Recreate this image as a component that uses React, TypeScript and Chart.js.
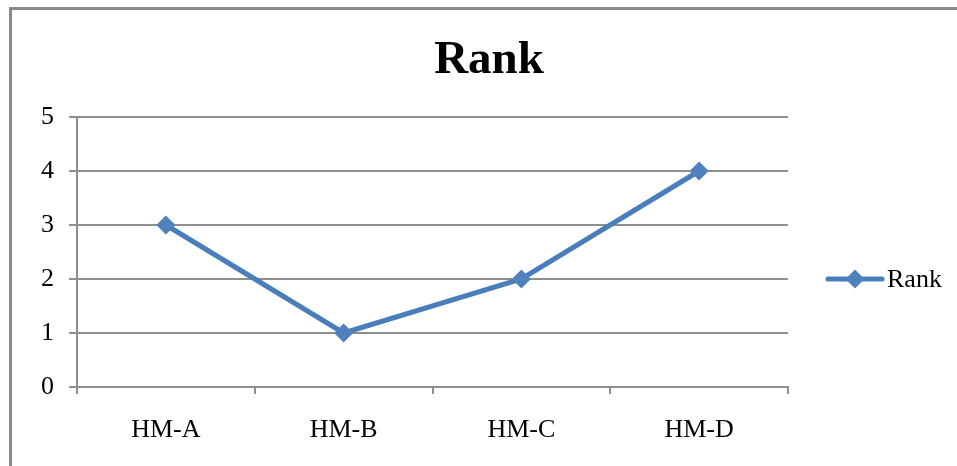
import React, { useEffect, useRef } from "react";
import { Chart, registerables } from "chart.js";

Chart.register(...registerables);

const categories = ["HM-A", "HM-B", "HM-C", "HM-D"];
const rankValues = [3, 1, 2, 4];
const seriesLabel = "Rank";
const chartTitle = "Rank";
const yMin = 0;
const yMax = 5;
const yStep = 1;

const LINE_COLOR = "#4a7ebb";
const MARKER_COLOR = "#4f81bd";
const GRID = "#8e8e8e";
const FONT = "'Liberation Serif', 'Times New Roman', serif";

export default function App() {
  const ref = useRef<HTMLCanvasElement>(null);

  useEffect(() => {
    if (!ref.current) return;

    const titlePlugin = {
      id: "customTitle",
      afterDraw(chart: any) {
        const ctx = chart.ctx;
        ctx.save();
        ctx.font = `bold 47px ${FONT}`;
        ctx.fillStyle = "#000";
        ctx.textAlign = "center";
        ctx.textBaseline = "alphabetic";
        ctx.fillText(chartTitle, 489, 73);
        ctx.restore();
      },
    };

    const legendPlugin = {
      id: "customLegend",
      afterDraw(chart: any) {
        const ctx = chart.ctx;
        const ds = chart.data.datasets[0];
        const x0 = chart.chartArea.right + 40;
        const y = 279;
        const len = 54;
        ctx.save();
        ctx.strokeStyle = LINE_COLOR;
        ctx.lineWidth = 5;
        ctx.lineCap = "round";
        ctx.beginPath();
        ctx.moveTo(x0, y);
        ctx.lineTo(x0 + len, y);
        ctx.stroke();
        const cx = x0 + len / 2;
        const r = 9.5;
        ctx.fillStyle = MARKER_COLOR;
        ctx.beginPath();
        ctx.moveTo(cx - r, y);
        ctx.lineTo(cx, y - r);
        ctx.lineTo(cx + r, y);
        ctx.lineTo(cx, y + r);
        ctx.closePath();
        ctx.fill();
        ctx.font = `26px ${FONT}`;
        ctx.fillStyle = "#000";
        ctx.textAlign = "left";
        ctx.textBaseline = "middle";
        ctx.fillText(ds.label, x0 + len + 5, y + 1);
        ctx.restore();
      },
    };

    const chart = new Chart(ref.current, {
      type: "line",
      data: {
        labels: categories,
        datasets: [
          {
            label: seriesLabel,
            data: rankValues,
            borderColor: LINE_COLOR,
            backgroundColor: MARKER_COLOR,
            borderWidth: 5,
            tension: 0,
            pointStyle: "rectRot",
            pointRadius: 8.5,
            pointBorderWidth: 1.5,
            pointBackgroundColor: MARKER_COLOR,
            pointBorderColor: MARKER_COLOR,
          },
        ],
      },
      options: {
        responsive: false,
        animation: false,
        layout: { padding: { left: 0, top: 117, right: 169, bottom: 0 } },
        plugins: {
          legend: { display: false },
          title: { display: false },
          tooltip: { enabled: false },
        },
        scales: {
          x: {
            offset: true,
            grid: {
              offset: true,
              drawOnChartArea: false,
              drawTicks: true,
              tickLength: 7,
              color: GRID,
              lineWidth: 2,
            },
            border: { color: GRID, width: 2 },
            ticks: {
              font: { family: FONT, size: 26 },
              color: "#000",
              padding: 21,
              maxRotation: 0,
            },
            afterFit(s: any) {
              s.height = 79;
            },
          },
          y: {
            min: yMin,
            max: yMax,
            ticks: {
              stepSize: yStep,
              font: { family: FONT, size: 26 },
              color: "#000",
              padding: 15,
            },
            grid: { color: GRID, lineWidth: 2, tickLength: 8 },
            border: { color: GRID, width: 2 },
            afterFit(s: any) {
              s.width = 77;
            },
          },
        },
      },
      plugins: [titlePlugin, legendPlugin],
    });

    return () => chart.destroy();
  }, []);

  return (
    <>
      <div
        style={{
          position: "absolute",
          left: 9,
          top: 7,
          width: 948,
          height: 459,
          boxSizing: "border-box",
          borderTop: "3px solid #8a8a8a",
          borderLeft: "3px solid #8a8a8a",
        }}
      />
      <canvas
        ref={ref}
        width={957}
        height={466}
        style={{ position: "absolute", left: 0, top: 0, display: "block" }}
      />
    </>
  );
}
